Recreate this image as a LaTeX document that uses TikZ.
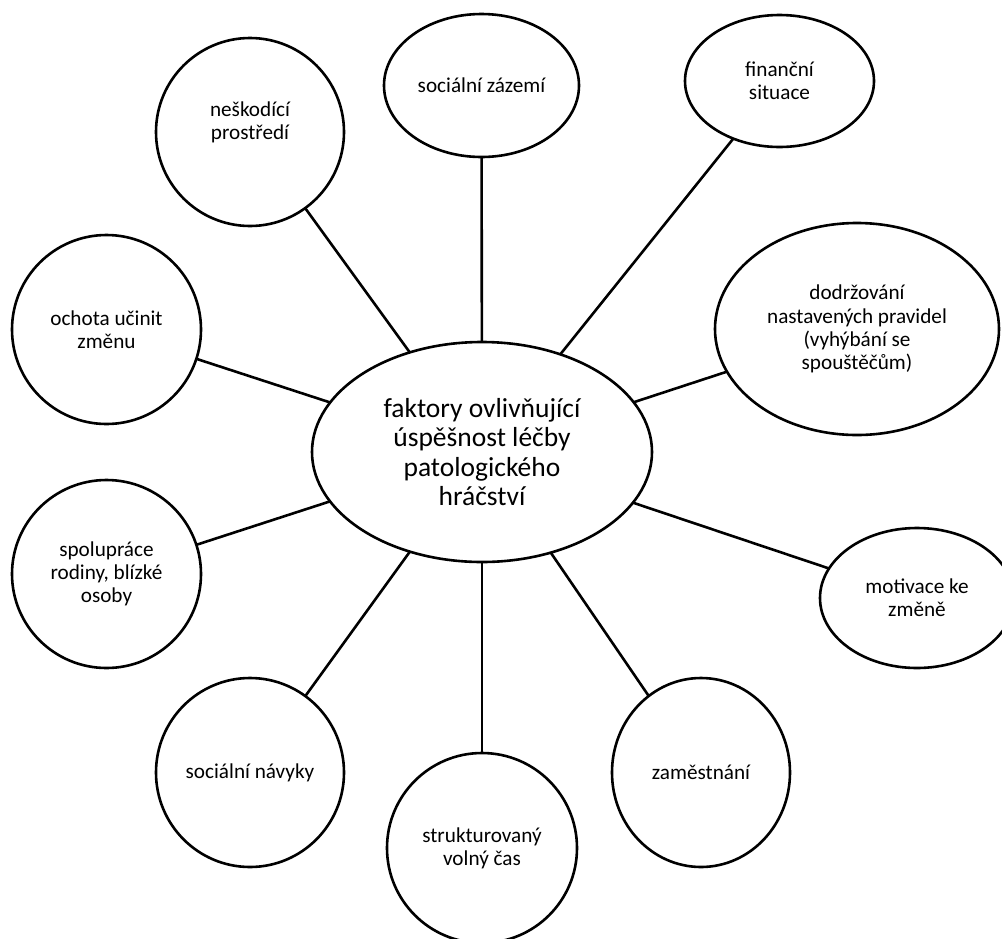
\documentclass[tikz,border=0pt]{standalone}
\usepackage{fontspec}
\setmainfont{Carlito}
\usetikzlibrary{shapes.geometric}
\begin{document}
\begin{tikzpicture}[x=1pt,y=-1pt,
  bubble/.style={draw=black, line width=2.6pt, ellipse, inner sep=0pt, outer sep=0pt,
    align=center, text=black, font=\fontsize{21.2}{23.3}\selectfont},
  hub/.style={bubble, font=\fontsize{27.5}{29.5}\selectfont},
  link/.style={draw=black, line width=2.6pt}]
\useasboundingbox (0,0) rectangle (1002,938);
\clip (0,0) rectangle (1002,938);
\node[hub, minimum width=340pt, minimum height=220pt] (c) at (482,452)
  {faktory ovlivňující\\úspěšnost léčby\\patologického\\hráčství};
\node[bubble, minimum width=195pt, minimum height=143pt] (sz) at (481.5,85.5) {sociální zázemí};
\node[bubble, minimum width=189pt, minimum height=132pt] (fs) at (779.5,81) {finanční\\situace};
\node[bubble, minimum width=188pt, minimum height=188pt] (np) at (250,132) {neškodící\\prostředí\\\mbox{}};
\node[bubble, minimum width=189pt, minimum height=189pt] (oz) at (106.5,329.5) {ochota učinit\\změnu};
\node[bubble, minimum width=284pt, minimum height=212pt] (dp) at (857,329)
  {dodržování\\nastavených pravidel\\(vyhýbání se\\spouštěčům)};
\node[bubble, minimum width=189pt, minimum height=188pt] (sr) at (106.5,574) {spolupráce\\rodiny, blízké\\osoby};
\node[bubble, minimum width=194pt, minimum height=140pt] (mz) at (917,598) {motivace ke\\změně};
\node[bubble, minimum width=188pt, minimum height=189pt] (sn) at (250,772.5) {sociální návyky};
\node[bubble, minimum width=190pt, minimum height=190pt] (sv) at (482,848) {strukturovaný\\volný čas};
\node[bubble, minimum width=178pt, minimum height=189pt] (za) at (701,772.5) {zaměstnání};
\foreach \n in {sz,fs,np,oz,dp,sr,mz,sn,sv,za} {
  \draw[link] (c) -- (\n);
}
\end{tikzpicture}
\end{document}
